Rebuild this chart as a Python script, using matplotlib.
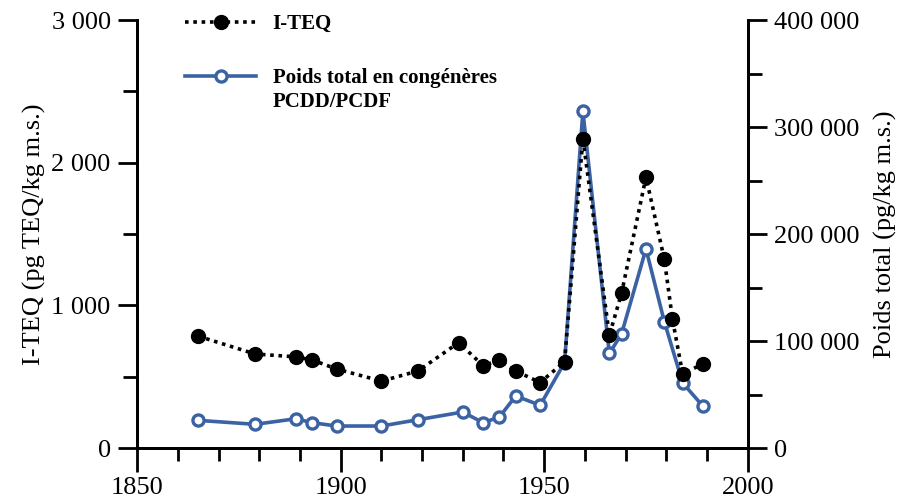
import matplotlib.pyplot as plt
from matplotlib.ticker import MultipleLocator, FuncFormatter

# valeurs
annees_teq = [1865, 1879, 1889, 1893, 1899, 1910, 1919, 1929, 1935, 1939, 1943,
              1949, 1955, 1959.5, 1966, 1969, 1975, 1979.5, 1981.5, 1984, 1989]
i_teq = [785, 660, 640, 618, 555, 470, 541, 740, 578, 616, 541,
         460, 606, 2170, 791, 1086, 1900, 1325, 905, 522, 590]

annees_poids = [1865, 1879, 1889, 1893, 1899, 1910, 1919, 1930, 1935, 1939, 1943,
                1949, 1955, 1959.5, 1966, 1969, 1975, 1979.5, 1984, 1989]
poids_total = [26000, 22300, 27500, 23800, 20700, 20700, 26600, 33800, 23800, 29100, 48800,
               40100, 80000, 314800, 88500, 106800, 186200, 118300, 61000, 39200]

xticks = [1850, 1900, 1950, 2000]
yticks_teq = [0, 1000, 2000, 3000]
yticks_poids = [0, 100000, 200000, 300000, 400000]

bleu = '#3b62a3'
police = 'Liberation Serif'
plt.rcParams['font.family'] = [police, 'DejaVu Serif']


def milliers(v, pos=None):
    return f"{int(v):,}".replace(",", " ")


fig = plt.figure(figsize=(9.02, 5.03), dpi=100)
ax = fig.add_axes([0.152, 0.109, 0.677, 0.851])
ax2 = ax.twinx()

ax2.plot(annees_poids, poids_total, color=bleu, lw=2.6, marker='o', ms=8,
         mfc='white', mec=bleu, mew=2.4, zorder=2, label='Poids total en congénères')
ax.plot(annees_teq, i_teq, color='black', lw=2.6, ls=(0, (1, 1.3)), marker='o',
        ms=10, mfc='black', mec='black', zorder=3, label='I-TEQ')

# l'axe de gauche doit passer au-dessus du second
ax.set_zorder(ax2.get_zorder() + 1)
ax.patch.set_visible(False)

ax.set_xlim(1850, 2000)
ax.set_ylim(0, 3000)
ax2.set_ylim(0, 400000)

ax.set_xticks(xticks)
ax.xaxis.set_minor_locator(MultipleLocator(10))
ax.set_yticks(yticks_teq)
ax.yaxis.set_minor_locator(MultipleLocator(500))
ax2.set_yticks(yticks_poids)
ax2.yaxis.set_minor_locator(MultipleLocator(50000))
ax.yaxis.set_major_formatter(FuncFormatter(milliers))
ax2.yaxis.set_major_formatter(FuncFormatter(milliers))

for a in (ax, ax2):
    a.spines['top'].set_visible(False)
    for s in a.spines.values():
        s.set_linewidth(2)
    a.tick_params(which='major', length=14, width=2, labelsize=19, pad=5)
    a.tick_params(which='minor', length=10, width=2)
ax.tick_params(axis='x', which='major', length=17, pad=4)
ax.tick_params(axis='x', which='minor', length=9)

ax.set_ylabel('I-TEQ (pg TEQ/kg m.s.)', fontsize=19, labelpad=4)
ax2.set_ylabel('Poids total (pg/kg m.s.)', fontsize=19, labelpad=10)

h1, l1 = ax.get_legend_handles_labels()
h2, l2 = ax2.get_legend_handles_labels()
leg = ax.legend(h1 + h2, l1 + l2, loc='upper left', bbox_to_anchor=(0.048, 1.058),
                frameon=False, handlelength=3.4, handletextpad=0.8, labelspacing=1.65,
                prop={'family': police, 'size': 15, 'weight': 'bold'})

# deuxième ligne du libellé bleu, placée sous la première une fois la légende calculée
fig.canvas.draw()
bb = leg.get_texts()[1].get_window_extent()
W, H = fig.canvas.get_width_height()
fig.text(bb.x0 / W, (bb.y0 - 4) / H, 'PCDD/PCDF', va='top', ha='left',
         fontsize=15, fontweight='bold', family=police)

fig.savefig('out.png', dpi=100)
